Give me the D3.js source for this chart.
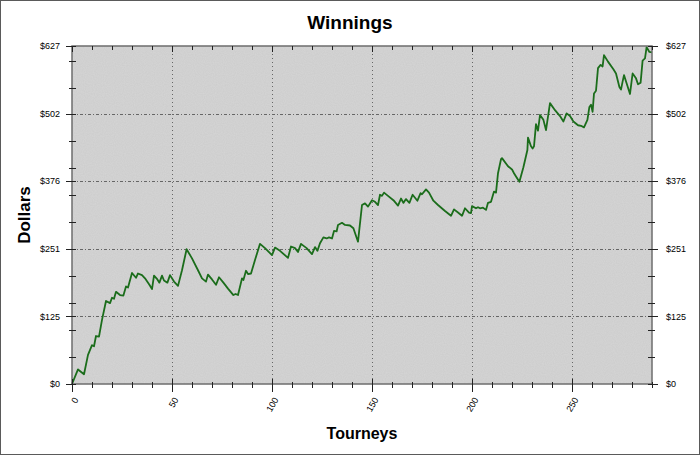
<!DOCTYPE html>
<html>
<head>
<meta charset="utf-8">
<script src="https://cdn.jsdelivr.net/npm/d3@7"></script>
<style>
  body { margin: 0; background: #ffffff; }
  svg { display: block; font-family: "Liberation Sans", Arial, sans-serif; }
  .tick-label { font-size: 9px; fill: #000; }
  .title { font-size: 19px; font-weight: bold; }
  .axis-title { font-size: 16px; font-weight: bold; }
</style>
</head>
<body>
<script>
var fullWidth = 700;
var fullHeight = 455;

var margin = {top: 46, right: 48, bottom: 71, left: 72};

var width = fullWidth - margin.left - margin.right;
var height = fullHeight - margin.top - margin.bottom;

// tourney number of each read vertex
var tourney = [0, 3, 6, 8, 10, 11, 12, 13.5, 15, 17, 19, 20, 21, 22, 24, 25.7, 27, 28, 30, 32,
    33, 35, 36.5, 38.7, 40, 41, 42.7, 43.7, 45, 46, 47.7, 49, 51, 53, 55, 57.3, 60, 63, 65, 67,
    68, 70, 72, 73.5, 75.7, 78, 80.7, 81.8, 83, 85, 85.7, 87, 88, 89.5, 91.5, 94, 96.5, 100, 101.5, 104,
    108, 109.5, 111.5, 113, 114.5, 117.3, 120, 121.5, 122.7, 124, 125.7, 127.3, 128.5, 130, 131, 132.3, 133, 135, 136.5, 139,
    140.7, 143, 145, 146.5, 148, 150, 151.5, 153, 154, 155, 156, 158, 160.7, 163, 164.5, 165.7, 167, 168.7, 170.3, 172.7,
    174.3, 175, 177, 178.5, 180.7, 183, 186.5, 189.5, 191, 193, 195, 196.5, 198.5, 199.5, 200, 202, 203, 204, 205.5, 207,
    208, 209.5, 211, 212, 213, 214.5, 215, 218, 220, 221, 222, 223.7, 225.7, 227.7, 228, 229.5, 230.3, 231, 232, 233,
    234, 235.7, 237, 239, 241.5, 244, 245.7, 247.3, 249, 250.7, 253, 254.5, 256, 257.7, 258.7, 259.5, 260.3, 261, 262, 263,
    264.3, 265.3, 266, 268, 270.7, 272, 273.7, 274.5, 275.3, 276, 277.3, 279, 280.3, 282, 283, 284.3, 285.3, 286.5, 287.3, 288.7,
    290];

// cumulative winnings in dollars at each vertex
var winnings = [0, 27, 18, 54, 72, 70, 89, 88, 119, 154, 150, 160, 158, 171, 165, 164, 181, 179, 206, 197,
    205, 202, 196, 184, 176, 201, 194, 188, 201, 192, 188, 202, 190, 182, 211, 250, 233, 211, 196, 190,
    203, 194, 184, 198, 188, 177, 165, 167, 165, 196, 193, 210, 204, 205, 230, 260, 252, 239, 253, 247,
    234, 255, 252, 245, 260, 252, 241, 254, 247, 261, 272, 270, 272, 270, 284, 283, 295, 299, 295, 294,
    289, 264, 332, 335, 329, 341, 338, 332, 351, 349, 355, 349, 341, 331, 344, 336, 343, 336, 351, 340,
    354, 352, 361, 355, 340, 332, 321, 312, 324, 318, 312, 326, 318, 317, 330, 326, 328, 326, 327, 323,
    336, 338, 357, 355, 391, 417, 419, 404, 398, 391, 385, 375, 402, 434, 457, 441, 437, 441, 482, 470,
    499, 490, 471, 521, 508, 497, 487, 502, 497, 487, 480, 479, 476, 490, 514, 518, 505, 539, 544, 586,
    592, 589, 610, 598, 584, 576, 551, 546, 561, 573, 558, 538, 576, 567, 556, 559, 600, 604, 625, 616,
    615];

var xMax = 290;
var xMajor = [0, 50, 100, 150, 200, 250];
var yMax = 627;
var yMajor = [0, 125.4, 250.8, 376.2, 501.6, 627];

window.onload = function() {

    var data = tourney.map(function(t, i) { return {t: t, v: winnings[i]}; });

    var svg = d3.select("body")
                .append("svg")
                .attr("width", fullWidth)
                .attr("height", fullHeight);

    // outer frame
    svg.append("rect")
       .attr("x", 0.5).attr("y", 0.5)
       .attr("width", fullWidth - 1).attr("height", fullHeight - 1)
       .style("fill", "#fff")
       .style("stroke", "#5a5a5a");

    var xScale = d3.scaleLinear()
                   .domain([0, xMax])
                   .range([margin.left, margin.left + width]);

    var yScale = d3.scaleLinear()
                   .domain([0, yMax])
                   .range([margin.top + height, margin.top]);

    // grainy plot background
    var defs = svg.append("defs");
    var grain = defs.append("filter").attr("id", "grain")
                    .attr("x", 0).attr("y", 0).attr("width", 1).attr("height", 1);
    grain.append("feTurbulence")
         .attr("type", "fractalNoise")
         .attr("baseFrequency", 0.9)
         .attr("numOctaves", 1)
         .attr("seed", 3);
    grain.append("feColorMatrix")
         .attr("type", "matrix")
         .attr("values", "0 0 0 0 0  0 0 0 0 0  0 0 0 0 0  0 0 0 0.05 0");

    svg.append("rect")
       .attr("x", margin.left).attr("y", margin.top)
       .attr("width", width).attr("height", height)
       .style("fill", "#d6d6d6");
    svg.append("rect")
       .attr("x", margin.left).attr("y", margin.top)
       .attr("width", width).attr("height", height)
       .attr("filter", "url(#grain)");

    // grid lines
    svg.append("g")
       .selectAll("line")
       .data(xMajor.filter(function(d) { return d > 0; }))
       .enter()
       .append("line")
       .attr("x1", function(d) { return Math.round(xScale(d)) + 0.5; })
       .attr("x2", function(d) { return Math.round(xScale(d)) + 0.5; })
       .attr("y1", margin.top)
       .attr("y2", margin.top + height)
       .style("stroke", "#666")
       .style("stroke-dasharray", "1,3");

    svg.append("g")
       .selectAll("line")
       .data(yMajor.slice(1, -1))
       .enter()
       .append("line")
       .attr("x1", margin.left)
       .attr("x2", margin.left + width)
       .attr("y1", function(d) { return Math.round(yScale(d)) + 0.5; })
       .attr("y2", function(d) { return Math.round(yScale(d)) + 0.5; })
       .style("stroke", "#666")
       .style("stroke-dasharray", "3,2,1,2");

    // the winnings line
    var line = d3.line()
                 .x(function(d) { return xScale(d.t); })
                 .y(function(d) { return yScale(d.v); });

    svg.append("path")
       .datum(data)
       .attr("d", line)
       .style("fill", "none")
       .style("stroke", "#1b6d1b")
       .style("stroke-width", 1.8)
       .style("stroke-linejoin", "round");

    // plot border
    svg.append("rect")
       .attr("x", margin.left).attr("y", margin.top)
       .attr("width", width).attr("height", height)
       .style("fill", "none")
       .style("stroke", "#6e6e6e")
       .style("stroke-width", 1.5);

    var xMinor = d3.range(10, xMax + 1, 10).filter(function(d) { return d % 50 != 0; });
    var yMinor = d3.range(50, yMax, 50);
    var bottom = margin.top + height;
    var right = margin.left + width;

    function tickLines(g, vals, attrs) {
        g.selectAll(null)
         .data(vals)
         .enter()
         .append("line")
         .attr("x1", attrs.x1).attr("x2", attrs.x2)
         .attr("y1", attrs.y1).attr("y2", attrs.y2)
         .style("stroke", "#222")
         .style("stroke-width", 1);
    }

    var ticks = svg.append("g");
    var px = function(d) { return Math.round(xScale(d)) + 0.5; };
    var py = function(d) { return Math.round(yScale(d)) + 0.5; };

    // bottom and top ticks
    tickLines(ticks, xMinor, {x1: px, x2: px, y1: bottom - 2, y2: bottom + 4});
    tickLines(ticks, xMajor, {x1: px, x2: px, y1: bottom - 5, y2: bottom + 8});
    tickLines(ticks, xMinor, {x1: px, x2: px, y1: margin.top, y2: margin.top + 4});
    tickLines(ticks, xMajor, {x1: px, x2: px, y1: margin.top, y2: margin.top + 6});

    // left and right ticks
    tickLines(ticks, yMinor, {x1: margin.left - 3, x2: margin.left + 4, y1: py, y2: py});
    tickLines(ticks, yMajor, {x1: margin.left - 6, x2: margin.left + 4, y1: py, y2: py});
    tickLines(ticks, yMinor, {x1: right - 4, x2: right + 3, y1: py, y2: py});
    tickLines(ticks, yMajor, {x1: right - 4, x2: right + 6, y1: py, y2: py});

    var fmt = function(d) { return "$" + d3.format(".0f")(d); };

    // y labels, both sides
    svg.append("g")
       .selectAll("text")
       .data(yMajor)
       .enter()
       .append("text")
       .attr("class", "tick-label")
       .attr("x", margin.left - 12)
       .attr("y", function(d) { return yScale(d); })
       .attr("dy", "0.35em")
       .style("text-anchor", "end")
       .text(fmt);

    svg.append("g")
       .selectAll("text")
       .data(yMajor)
       .enter()
       .append("text")
       .attr("class", "tick-label")
       .attr("x", right + 14)
       .attr("y", function(d) { return yScale(d); })
       .attr("dy", "0.35em")
       .style("text-anchor", "start")
       .text(fmt);

    // x labels, rotated
    svg.append("g")
       .selectAll("text")
       .data(xMajor)
       .enter()
       .append("text")
       .attr("class", "tick-label")
       .attr("transform", function(d) {
           return "translate(" + (xScale(d) + 4) + "," + (bottom + 14) + ") rotate(-60)";
       })
       .attr("dy", "0.35em")
       .style("text-anchor", "end")
       .text(function(d) { return d; });

    // titles
    svg.append("text")
       .attr("class", "title")
       .attr("x", fullWidth / 2)
       .attr("y", 29)
       .style("text-anchor", "middle")
       .text("Winnings");

    svg.append("text")
       .attr("class", "axis-title")
       .attr("x", margin.left + width / 2)
       .attr("y", 439)
       .style("text-anchor", "middle")
       .text("Tourneys");

    svg.append("text")
       .attr("class", "axis-title")
       .attr("transform", "rotate(-90)")
       .attr("x", -(margin.top + height / 2))
       .attr("y", 30)
       .style("text-anchor", "middle")
       .style("font-size", "17px")
       .text("Dollars");
};
</script>
</body>
</html>
